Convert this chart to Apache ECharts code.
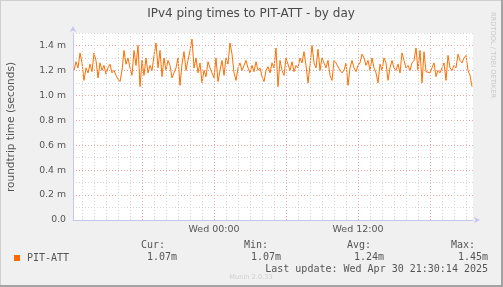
<!DOCTYPE html>
<html>
<head>
<meta charset="utf-8">
<script src="https://cdn.jsdelivr.net/npm/echarts@6/dist/echarts.min.js"></script>
<style>
html,body{margin:0;padding:0;background:#f0f0f0;}
#c{width:503px;height:287px;}
</style>
</head>
<body>
<div id="c"></div>
<script>
// ---- data ----
// ping samples (ms), 10-minute steps, first sample Tue 12:20 (hours relative to Wed 00:00)
var firstSampleHour = -11 - 40 / 60;
var stepHours = 10 / 60;
var pingValues = [
  1.20,1.27,1.22,1.34,1.26,1.12,1.22,1.18,1.25,1.19,
  1.34,1.28,1.14,1.26,1.20,1.24,1.17,1.22,1.25,1.18,
  1.20,1.16,1.13,1.11,1.20,1.36,1.25,1.30,1.22,1.16,
  1.36,1.24,1.40,1.07,1.28,1.16,1.30,1.18,1.24,1.20,
  1.32,1.42,1.22,1.36,1.15,1.30,1.20,1.28,1.24,1.14,
  1.18,1.22,1.30,1.08,1.25,1.35,1.20,1.28,1.36,1.45,
  1.22,1.30,1.18,1.26,1.10,1.20,1.15,1.27,1.22,1.18,
  1.14,1.30,1.11,1.20,1.28,1.16,1.30,1.25,1.42,1.33,
  1.18,1.12,1.22,1.26,1.20,1.24,1.28,1.22,1.18,1.24,
  1.19,1.27,1.20,1.22,1.15,1.11,1.20,1.23,1.18,1.26,
  1.22,1.38,1.07,1.28,1.20,1.16,1.30,1.25,1.20,1.27,
  1.19,1.24,1.22,1.30,1.26,1.35,1.24,1.10,1.24,1.40,
  1.26,1.22,1.37,1.20,1.30,1.26,1.22,1.28,1.16,1.12,
  1.28,1.26,1.27,1.20,1.18,1.20,1.26,1.08,1.22,1.28,
  1.22,1.19,1.24,1.26,1.33,1.30,1.24,1.28,1.20,1.30,
  1.22,1.18,1.10,1.25,1.20,1.30,1.26,1.12,1.22,1.28,
  1.22,1.20,1.25,1.18,1.34,1.28,1.22,1.24,1.20,1.26,
  1.28,1.38,1.20,1.36,1.10,1.35,1.19,1.20,1.18,1.22,
  1.26,1.15,1.20,1.18,1.22,1.26,1.12,1.32,1.22,1.20,
  1.24,1.22,1.33,1.28,1.26,1.30,1.32,1.20,1.16,1.07
];
var xMinHour = -11.75;          // Tue 12:15
var xMaxHour = 21 + 35 / 60;    // Wed 21:35
var xLabelHours = [0, 12];
var xLabelTexts = ['Wed 00:00', 'Wed 12:00'];
var yTickLabels = ['0.0','', '0.2 m','', '0.4 m','', '0.6 m','', '0.8 m','', '1.0 m','', '1.2 m','', '1.4 m',''];
var seriesName = 'PIT-ATT';
var statHeads = ['Cur:', 'Min:', 'Avg:', 'Max:'];
var statValues = ['1.07m', '1.07m', '1.24m', '1.45m'];
var titleText = 'IPv4 ping times to PIT-ATT - by day';
var unitText = 'roundtrip time (seconds)';
var lastUpdate = 'Last update: Wed Apr 30 21:30:14 2025';

// ---- build ----
var lineData = pingValues.map(function (v, i) { return [firstSampleHour + i * stepHours, v]; });
var vLines = [];
for (var h = -11; h <= 21; h++) {
  var major = (h % 6 === 0);
  vLines.push({ xAxis: h, lineStyle: { color: major ? '#e8a6a6' : '#d6d6d6', type: [1, 2], width: 1 } });
}
var MONO = '"DejaVu Sans Mono", monospace';
var SANS = '"DejaVu Sans", sans-serif';
var statHeadRight = [165, 268, 371, 475];
var statValRight = [177, 281, 384, 488];
var graphics = [
  { type: 'rect', shape: { x: 0, y: 0, width: 503, height: 1 }, style: { fill: '#cfcfcf' }, silent: true },
  { type: 'rect', shape: { x: 0, y: 0, width: 1, height: 287 }, style: { fill: '#cfcfcf' }, silent: true },
  { type: 'rect', shape: { x: 501, y: 0, width: 2, height: 287 }, style: { fill: '#a3a3a3' }, silent: true },
  { type: 'rect', shape: { x: 0, y: 285, width: 503, height: 2 }, style: { fill: '#a3a3a3' }, silent: true },
  { type: 'text', x: 251, y: 14, style: { text: titleText, font: '12px ' + SANS, fill: '#4a4a4a', textAlign: 'center', textVerticalAlign: 'middle' } },
  { type: 'text', x: 11, y: 127, rotation: Math.PI / 2, style: { text: unitText, font: '10.5px ' + SANS, fill: '#555', textAlign: 'center', textVerticalAlign: 'middle' } },
  { type: 'text', x: 493, y: 55, rotation: -Math.PI / 2, style: { text: 'RRDTOOL / TOBI OETIKER', font: '6.7px ' + SANS, fill: '#c8c8c8', textAlign: 'center', textVerticalAlign: 'middle' } },
  { type: 'rect', shape: { x: 14, y: 255, width: 6, height: 6 }, style: { fill: '#ff6a00' } },
  { type: 'text', x: 27, y: 258, style: { text: seriesName, font: '10px ' + MONO, fill: '#555', textAlign: 'left', textVerticalAlign: 'middle' } },
  { type: 'text', x: 488, y: 269, style: { text: lastUpdate, font: '10px ' + MONO, fill: '#555', textAlign: 'right', textVerticalAlign: 'middle' } },
  { type: 'text', x: 251, y: 277, style: { text: 'Munin 2.0.33', font: '6.7px ' + SANS, fill: '#cfcfcf', textAlign: 'center', textVerticalAlign: 'middle' } }
];
for (var k = 0; k < statHeads.length; k++) {
  graphics.push({ type: 'text', x: statHeadRight[k], y: 245, style: { text: statHeads[k], font: '10px ' + MONO, fill: '#555', textAlign: 'right', textVerticalAlign: 'middle' } });
  graphics.push({ type: 'text', x: statValRight[k], y: 257, style: { text: statValues[k], font: '10px ' + MONO, fill: '#555', textAlign: 'right', textVerticalAlign: 'middle' } });
}

var chart = echarts.init(document.getElementById('c'), null, { renderer: 'canvas' });
chart.setOption({
  animation: false,
  backgroundColor: '#f0f0f0',
  grid: { left: 73, right: 30, top: 33, bottom: 67, show: true, backgroundColor: '#ffffff', borderWidth: 0 },
  xAxis: {
    type: 'value', min: xMinHour, max: xMaxHour,
    axisLine: { show: true, onZero: false, lineStyle: { color: '#c6c6f2', width: 1 }, symbol: ['none', 'arrow'], symbolSize: [5, 6], symbolOffset: [0, 7] },
    axisTick: { show: false },
    splitLine: { show: false },
    axisLabel: {
      customValues: xLabelHours,
      color: '#555', fontFamily: 'DejaVu Sans', fontSize: 9.5, margin: 5,
      formatter: function (v) { var i = xLabelHours.indexOf(Math.round(v)); return i >= 0 ? xLabelTexts[i] : ''; }
    }
  },
  yAxis: {
    type: 'value', min: 0, max: 1.5, interval: 0.1,
    axisLine: { show: true, onZero: false, lineStyle: { color: '#c6c6f2', width: 1 }, symbol: ['none', 'arrow'], symbolSize: [5, 6], symbolOffset: [0, 7] },
    axisTick: { show: false },
    splitLine: { show: true, lineStyle: { color: ['#e8a6a6', '#d6d6d6'], type: [1, 2], width: 1 } },
    axisLabel: {
      color: '#555', fontFamily: 'DejaVu Sans', fontSize: 9.3, margin: 7,
      formatter: function (v, idx) { return yTickLabels[idx] || ''; }
    }
  },
  graphic: graphics,
  series: [
    {
      type: 'line', data: [], z: 1, silent: true,
      markLine: { silent: true, symbol: ['none', 'none'], label: { show: false }, animation: false, data: vLines }
    },
    {
      name: seriesName, type: 'line', data: lineData, z: 3,
      showSymbol: false, symbol: 'none',
      lineStyle: { color: '#ff6f00', width: 1 },
      itemStyle: { color: '#ff6f00' }
    }
  ]
});
</script>
</body>
</html>
